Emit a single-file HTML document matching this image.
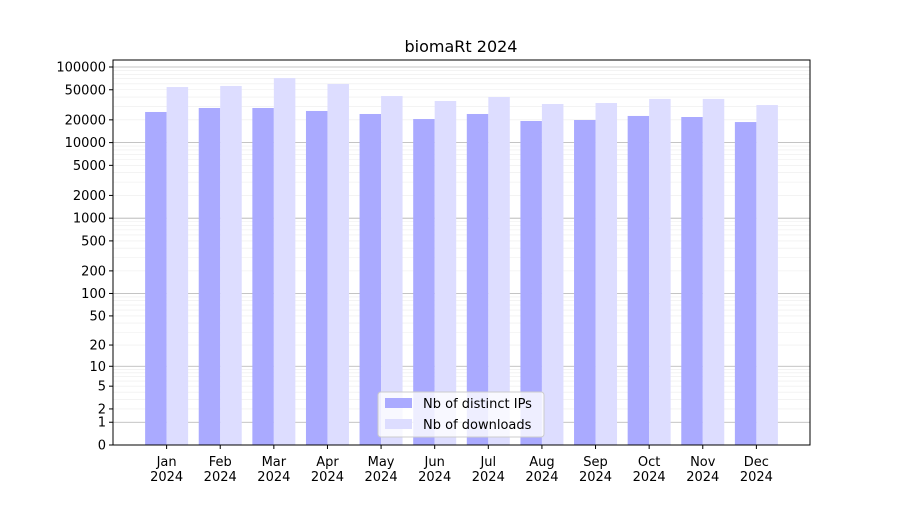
<!DOCTYPE html>
<html><head><meta charset="utf-8"><style>
body{margin:0;background:#fff;}
svg text{font-family:"DejaVu Sans","Liberation Sans",sans-serif;}
</style></head><body>
<svg id="chart" width="900" height="500" xmlns="http://www.w3.org/2000/svg">
<rect width="900" height="500" fill="#fff"/>
<g id="grid"></g>
<g id="bars"></g>
<g id="axes"></g>
<text x="461" y="52" text-anchor="middle" font-size="16">biomaRt 2024</text>
</svg>
<script>
const months = ["Jan","Feb","Mar","Apr","May","Jun","Jul","Aug","Sep","Oct","Nov","Dec"];
const ips = [25400,28700,28700,26200,23900,20500,23900,19300,19900,22500,21800,18700];
const downloads = [54300,56100,71400,59600,41300,35500,40100,32400,33400,37800,37800,31400];
const yTicks = [0,1,2,5,10,20,50,100,200,500,1000,2000,5000,10000,20000,50000,100000];
const NS="http://www.w3.org/2000/svg";
const L=113,R=810,T=60,B=445;
function x(i){return L+(i+1)*(R-L)/13;}
function y(v){return B-Math.log10(v+1)*75.6;}
function mk(tag,attrs,parent){const e=document.createElementNS(NS,tag);for(const k in attrs)e.setAttribute(k,attrs[k]);document.getElementById(parent).appendChild(e);return e;}
// minor grid
for(let d=1;d<=100000;d*=10){for(let k=1;k<10;k++){const v=d*k;if(y(v)<T)continue;
const g=mk('line',{x1:L,x2:R,y1:y(v),y2:y(v),stroke:k==1?'#b0b0b0':'#ececec','stroke-width':k==1?0.8:0.6},'grid');

}}
const bw=21.5;
months.forEach((m,i)=>{
const a=mk('rect',{x:x(i)-bw,y:y(ips[i]),width:bw,height:B-y(ips[i]),fill:'#aaaaff'},'bars');


const b=mk('rect',{x:x(i),y:y(downloads[i]),width:bw,height:B-y(downloads[i]),fill:'#ddddff'},'bars');


mk('line',{x1:x(i),x2:x(i),y1:B,y2:B+4,stroke:'#000'},'axes');
const t=mk('text',{x:x(i),y:B+21,'text-anchor':'middle','font-size':13},'axes');t.textContent=m;


const t2=mk('text',{x:x(i),y:B+36,'text-anchor':'middle','font-size':13},'axes');t2.textContent='2024';


});
yTicks.forEach(v=>{
mk('line',{x1:L-4,x2:L,y1:y(v),y2:y(v),stroke:'#000'},'axes');
const t=mk('text',{x:L-7,y:y(v)+4.5,'text-anchor':'end','font-size':13},'axes');t.textContent=v;


});
const fr=mk('rect',{x:L,y:T,width:R-L,height:B-T,fill:'none',stroke:'#000','stroke-width':1},'axes');


// legend
const lg=mk('rect',{x:378,y:392,width:166,height:45,rx:3,fill:'#fff','fill-opacity':0.8,stroke:'#ccc'},'axes');


[['Nb of distinct IPs','#aaaaff',398],['Nb of downloads','#ddddff',419]].forEach(([s,c,yy])=>{
const r=mk('rect',{x:385,y:yy,width:27,height:10,fill:c},'axes');


const t=mk('text',{x:423,y:yy+10,'font-size':13},'axes');t.textContent=s;


});
</script>
</body></html>
